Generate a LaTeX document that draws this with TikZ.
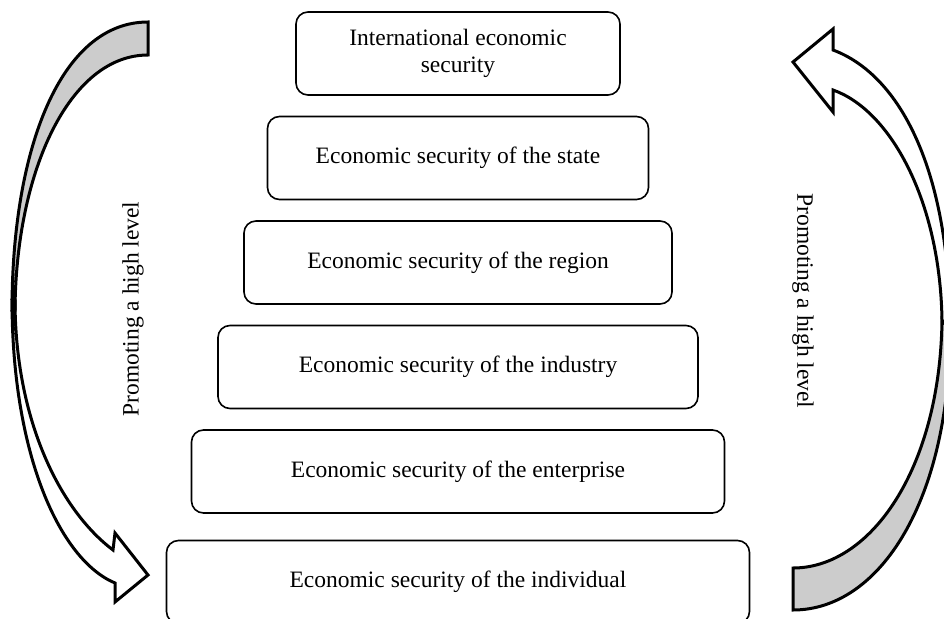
\documentclass[tikz,border=0pt]{standalone}
\usepackage{fontspec}
\setmainfont{Liberation Serif}
\usetikzlibrary{arrows.meta}

\begin{document}
\begin{tikzpicture}[
    x=1pt, y=-1pt,
    node distance=104.5pt,        % centre to centre of the levels
    level/.style={draw, rounded corners=12pt, line width=1.6pt,
      minimum height=83pt, align=center,
      font=\fontsize{23.5}{27}\selectfont},
    ribbon/.style={line width=3pt, line join=miter},
    back/.style={ribbon, fill=black!20},
    front/.style={ribbon, fill=white},
    side/.style={font=\fontsize{23.5}{27}\selectfont}]
    \useasboundingbox (0,0) rectangle (944,618);
    \clip (0,0) rectangle (944,618);

    % Curved arrow on the left
    \draw[back] (148,22) .. controls (60,22) and (12,150) .. (12,310)
      -- (15,310) .. controls (16,170) and (70,55) .. (148,55) -- cycle;
    \draw[front] (12,300) .. controls (12,455) and (60,560) .. (115,583)
      -- (115,602) -- (148,575) -- (115,533) -- (113,550)
      .. controls (60,510) and (15,420) .. (15,300) -- cycle;

    % Curved arrow on the right
    \draw[back] (950,330) .. controls (950,500) and (880,610) .. (793,610)
      -- (793,568) .. controls (870,568) and (940,470) .. (942,320) -- cycle;
    \draw[front] (950,330) .. controls (950,170) and (900,75) .. (833,50)
      -- (833,29) -- (793,62) -- (833,112) -- (833,90)
      .. controls (890,110) and (940,200) .. (942,320) -- cycle;

    % Levels
    \node[level, minimum width=324pt] (intl) at (458,53.5) {International economic\\security};
    \node[level, minimum width=381pt] (state) [below of=intl] {Economic security of the state};
    \node[level, minimum width=428pt] (region) [below of=state] {Economic security of the region};
    \node[level, minimum width=480pt] (industry) [below of=region] {Economic security of the industry};
    \node[level, minimum width=533pt] (enterprise) [below of=industry] {Economic security of the enterprise};
    \node[level, minimum width=583pt] (individual) [below of=enterprise, yshift=-6pt] {Economic security of the individual};

    % Side labels
    \node[side, rotate=90] (upL) at (133,309) {Promoting a high level};
    \node[side, rotate=-90] (upR) at (803,301) {Promoting a high level};
\end{tikzpicture}
\end{document}
